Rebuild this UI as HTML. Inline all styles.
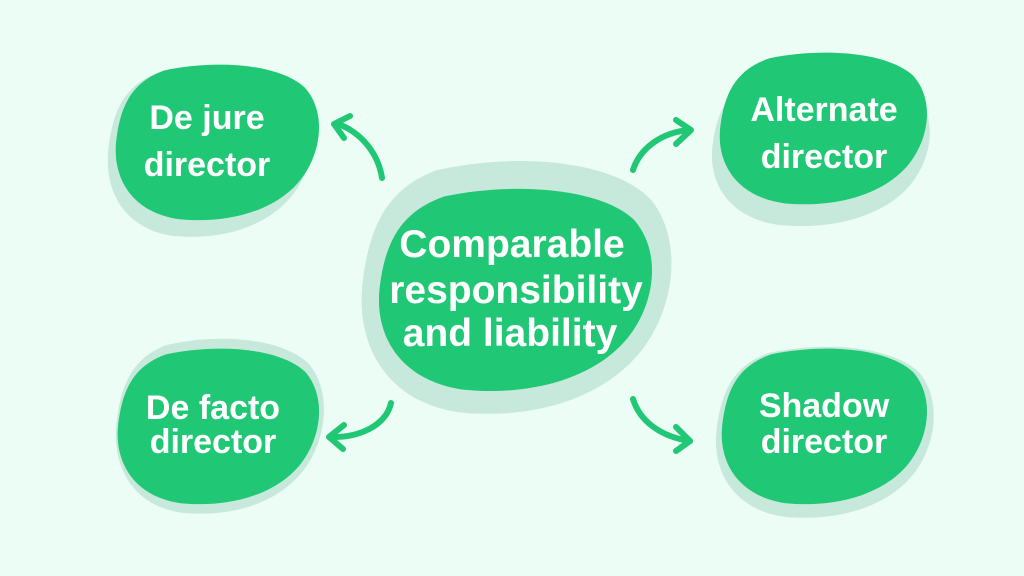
<!DOCTYPE html>
<html><head><style>
html,body{margin:0;padding:0;background:#ecfdf5;}
svg{display:block}
text{font-family:"Liberation Sans",sans-serif;font-weight:bold;fill:#fff;text-anchor:middle}
</style></head><body>
<svg width="1024" height="576" viewBox="0 0 1024 576" xmlns="http://www.w3.org/2000/svg">
<defs>
<path id="b" d="M25,4 C50,-3 80,0 92,15 C102,30 100,55 90,72 C78,92 55,100 32,97 C10,93 0,72 2,48 C4,25 10,11 25,4 Z"/>
</defs>
<rect width="1024" height="576" fill="#ecfdf5"/>
<g fill="#c6e9dc">
<use href="#b" transform="translate(104,66) scale(2.12,1.75)"/>
<use href="#b" transform="translate(708,68) scale(2.25,1.62)"/>
<use href="#b" transform="translate(112,338) scale(2.15,1.8)"/>
<use href="#b" transform="translate(712,346) scale(2.25,1.76)"/>
<use href="#b" transform="translate(356,160) scale(3.2,2.6)"/>
</g>
<g fill="#20c774">
<use href="#b" transform="translate(112,64) scale(2.1,1.6)"/>
<use href="#b" transform="translate(716,52) scale(2.14,1.56)"/>
<use href="#b" transform="translate(114,348) scale(2.08,1.6)"/>
<use href="#b" transform="translate(718,348) scale(2.12,1.6)"/>
<use href="#b" transform="translate(374,188) scale(2.82,2.08)"/>
</g>
<g fill="none" stroke="#20c774" stroke-width="6" stroke-linecap="round" stroke-linejoin="round">
<path d="M382,178 C378,152 360,132 338,124"/>
<path d="M350,116 L334,124 L344,138"/>
<path d="M633,170 C640,148 662,132 690,130"/>
<path d="M676,120 L691,130 L676,144"/>
<path d="M391,403 C386,425 360,438 330,437"/>
<path d="M344,425 L329,437 L343,449"/>
<path d="M633,399 C640,422 662,437 690,441"/>
<path d="M676,427 L690,441 L676,451"/>
</g>
<text font-size="34"><tspan x="207" y="129">De jure</tspan><tspan x="207" y="176">director</tspan></text>
<text font-size="34"><tspan x="824" y="121">Alternate</tspan><tspan x="824" y="168">director</tspan></text>
<text font-size="34"><tspan x="213" y="419">De facto</tspan><tspan x="213" y="453">director</tspan></text>
<text font-size="34"><tspan x="824" y="417">Shadow</tspan><tspan x="824" y="453">director</tspan></text>
<text font-size="39"><tspan x="512" y="257">Comparable</tspan><tspan x="516" y="303">responsibility</tspan><tspan x="510" y="346">and liability</tspan></text>
</svg>
</body></html>
